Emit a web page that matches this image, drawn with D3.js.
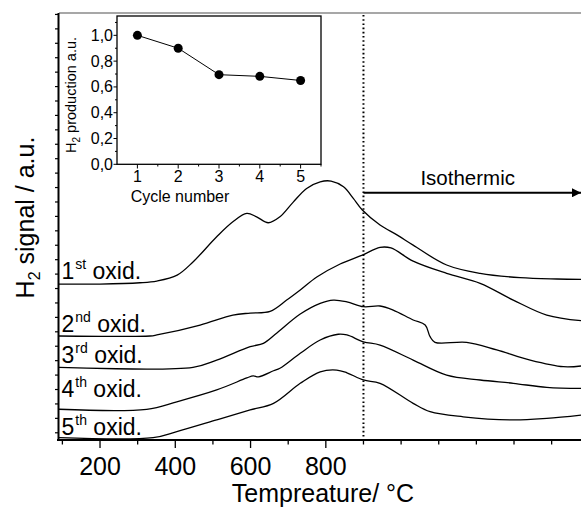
<!DOCTYPE html>
<html><head><meta charset="utf-8">
<script src="https://cdn.jsdelivr.net/npm/d3@7"></script>
<style>
body{margin:0;background:#fff;}
text{font-family:"Liberation Sans",Arial,sans-serif;fill:#000;}
</style></head>
<body><svg id="c" width="581" height="507"></svg>
<script>
// ---- data ----
const curve1T = [91,200,306,351,405,447,510,553,590,616,647,678,714,749,785,814,847,873,897,944,990,1032,1121,1210,1316,1414,1478];
const curve1S = [10.81,10.81,10.9,11.02,11.43,12.34,14.09,15.13,15.71,15.47,15.06,15.47,16.51,17.44,17.9,17.95,17.55,16.75,15.94,14.9,14.2,13.51,12.13,11.55,11.25,11.16,11.14];
const curve2T = [91,333,351,466,553,599,652,696,732,776,838,897,944,973,1032,1121,1210,1298,1387,1478];
const curve2S = [7.21,7.21,7.28,7.97,8.66,8.8,8.92,9.7,10.4,11.3,12.2,12.82,13.35,13.31,12.4,11.55,10.86,9.7,8.66,8.27];
const curve3T = [91,447,510,599,634,670,732,785,820,856,900,944,979,1032,1064,1077,1090,1174,1254,1343,1431,1478];
const curve3S = [5.04,5.04,5.54,6.47,6.7,7.42,8.73,9.47,9.7,9.58,9.24,9.29,9.01,8.32,7.97,7.16,6.77,6.77,6.24,5.54,5.08,5.13];
const curve4T = [91,324,404,510,590,607,621,661,678,732,785,833,856,900,944,1032,1121,1210,1298,1387,1478];
const curve4S = [2.13,2.13,2.65,3.47,4.3,4.45,4.38,4.8,4.97,6.01,6.93,7.33,7.28,6.81,6.58,5.54,4.5,4.16,3.93,3.65,3.58];
const curve5T = [91,341,404,510,599,661,732,785,829,856,900,944,1032,1077,1165,1298,1387,1478];
const curve5S = [0.16,0.16,0.58,1.39,2.08,2.54,3.93,4.73,4.85,4.66,4.16,3.93,2.54,1.96,1.61,1.39,1.5,1.73];
const ordinals = ["1","2","3","4","5"];
const ordSup = ["st","nd","rd","th","th"];
const labelS = [11.14,7.51,5.32,3.0,0.35];
const xTickLabels = [200,400,600,800];
const isoT = 900;
const arrowS = 17.14;

const cycles = [1,2,3,4,5];
const production = [1.0,0.9,0.695,0.682,0.65];
const insetYTicks = [0,0.2,0.4,0.6,0.8,1.0];

// ---- scales ----
const svg = d3.select("#c");
const x = d3.scaleLinear().domain([91,1478]).range([59,581]);
const y = d3.scaleLinear().domain([0,29.6]).range([440,13]);

// top border
svg.append("line").attr("x1",59).attr("x2",581).attr("y1",y(29.6)).attr("y2",y(29.6))
  .attr("stroke","#8a8a8a").attr("stroke-width",1.3);

// curves
const series = [[curve1T,curve1S],[curve2T,curve2S],[curve3T,curve3S],[curve4T,curve4S],[curve5T,curve5S]];
const line = d3.line().x(d=>x(d[0])).y(d=>y(d[1])).curve(d3.curveCatmullRom.alpha(0.5));
series.forEach(([T,S])=>{
  svg.append("path").datum(T.map((t,i)=>[t,S[i]])).attr("d",line)
    .attr("fill","none").attr("stroke","#000").attr("stroke-width",1.3);
});

// dotted isothermal line
svg.append("line").attr("x1",x(isoT)).attr("x2",x(isoT)).attr("y1",y(29.6)+2).attr("y2",y(0))
  .attr("stroke","#000").attr("stroke-width",2).attr("stroke-dasharray","1.6,2.6");

// arrow
svg.append("defs").append("marker").attr("id","ah").attr("viewBox","0 0 10 10")
  .attr("refX",10).attr("refY",5).attr("markerWidth",5).attr("markerHeight",4.5)
  .attr("markerUnits","strokeWidth").attr("orient","auto")
  .append("path").attr("d","M0,0L10,5L0,10z").attr("fill","#000");
svg.append("line").attr("x1",x(isoT)).attr("x2",581).attr("y1",y(arrowS)).attr("y2",y(arrowS))
  .attr("stroke","#000").attr("stroke-width",2).attr("marker-end","url(#ah)");
svg.append("text").attr("x",x(1177)).attr("y",184.5).attr("text-anchor","middle")
  .attr("font-size",20.5).text("Isothermic");

// x axis
const xAxisG = svg.append("g").attr("transform","translate(0,440)");
xAxisG.append("line").attr("x1",57).attr("x2",581).attr("stroke","#000").attr("stroke-width",1.8);
const xt = d3.range(100,1500,100);
xAxisG.selectAll(".xt").data(xt).enter().append("line")
  .attr("x1",d=>x(d)).attr("x2",d=>x(d)).attr("y1",0)
  .attr("y2",d=>xTickLabels.includes(d)?8:4.5).attr("stroke","#000").attr("stroke-width",1.3);
xAxisG.selectAll(".xl").data(xTickLabels).enter().append("text")
  .attr("x",d=>x(d)).attr("y",35).attr("text-anchor","middle").attr("font-size",25).text(d=>d);
svg.append("text").attr("x",323).attr("y",501.5).attr("text-anchor","middle").attr("font-size",25)
  .text("Tempreature/ \u00B0C");

// y axis
svg.append("line").attr("x1",58.5).attr("x2",58.5).attr("y1",y(29.6)).attr("y2",441)
  .attr("stroke","#000").attr("stroke-width",2);
const yt = d3.range(0.5,29.6,1);
svg.selectAll(".yt").data(yt).enter().append("line")
  .attr("x1",55).attr("x2",58).attr("y1",d=>y(d)).attr("y2",d=>y(d))
  .attr("stroke","#000").attr("stroke-width",1.2);
const yl = svg.append("text").attr("transform","translate(33.5,217.5) rotate(-90)")
  .attr("text-anchor","middle").attr("font-size",25);
yl.append("tspan").text("H");
yl.append("tspan").attr("font-size",16).attr("dy",6).text("2");
yl.append("tspan").attr("dy",-6).text(" signal / a.u.");

// curve labels
ordinals.forEach((o,i)=>{
  const t = svg.append("text").attr("x",x(91)+2.5).attr("y",y(labelS[i])).attr("font-size",23);
  t.append("tspan").text(o);
  t.append("tspan").attr("font-size",14).attr("dy",-10).attr("dx",1).text(ordSup[i]);
  t.append("tspan").attr("dy",10).text(" oxid.");
});

// ---- inset ----
const xi = d3.scaleLinear().domain([0.5,5.5]).range([117,321]);
const yi = d3.scaleLinear().domain([0,1.15]).range([164.3,16]);
svg.append("rect").attr("x",117).attr("y",16).attr("width",204).attr("height",148.3)
  .attr("fill","#fff").attr("stroke","#000").attr("stroke-width",1.3);
// y ticks
svg.selectAll(".iyt").data(d3.range(0,1.11,0.1)).enter().append("line")
  .attr("x1",d=>Math.round(d*10)%2===0?113.5:115).attr("x2",117)
  .attr("y1",d=>yi(d)).attr("y2",d=>yi(d)).attr("stroke","#000").attr("stroke-width",1);
svg.selectAll(".iyl").data(insetYTicks).enter().append("text")
  .attr("x",113).attr("y",d=>yi(d)+5.5).attr("text-anchor","end").attr("font-size",16)
  .text(d=>d3.format(".1f")(d).replace(".",","));
// x ticks
svg.selectAll(".ixt").data(d3.range(1,5.6,0.5)).enter().append("line")
  .attr("x1",d=>xi(d)).attr("x2",d=>xi(d)).attr("y1",164.3)
  .attr("y2",d=>Number.isInteger(d)?168.5:166.5).attr("stroke","#000").attr("stroke-width",1);
svg.selectAll(".ixl").data(cycles).enter().append("text")
  .attr("x",d=>xi(d)).attr("y",182).attr("text-anchor","middle").attr("font-size",16).text(d=>d);
svg.append("text").attr("x",180).attr("y",201.5).attr("text-anchor","middle").attr("font-size",16)
  .text("Cycle number");
const iyl = svg.append("text").attr("transform","translate(76,95) rotate(-90)")
  .attr("text-anchor","middle").attr("font-size",14.5);
iyl.append("tspan").text("H");
iyl.append("tspan").attr("font-size",10).attr("dy",4).text("2");
iyl.append("tspan").attr("dy",-4).text(" production a.u.");
// data
svg.append("path").datum(cycles.map((c,i)=>[c,production[i]]))
  .attr("d",d3.line().x(d=>xi(d[0])).y(d=>yi(d[1])))
  .attr("fill","none").attr("stroke","#000").attr("stroke-width",1);
svg.selectAll(".pt").data(cycles).enter().append("circle")
  .attr("cx",d=>xi(d)).attr("cy",(d,i)=>yi(production[i])).attr("r",4.5).attr("fill","#000");
</script></body></html>
